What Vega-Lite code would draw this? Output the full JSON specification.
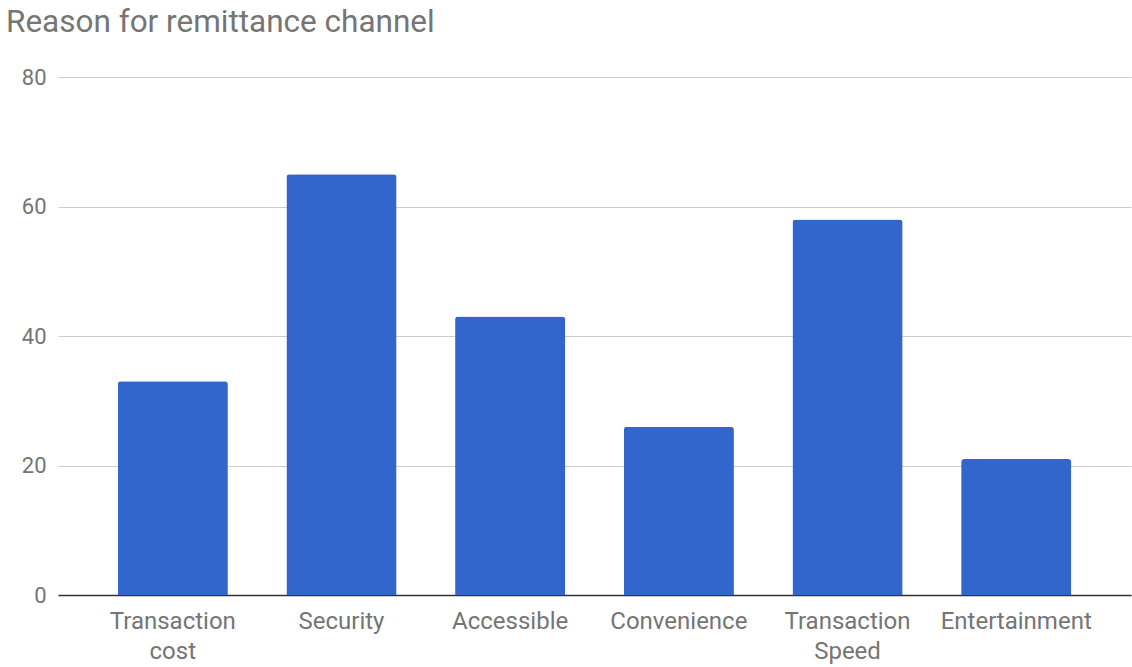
{
  "$schema": "https://vega.github.io/schema/vega-lite/v6.json",
  "width": 1073,
  "height": 518,
  "autosize": {"type": "none"},
  "padding": {"left": 58, "top": 77, "right": 1, "bottom": 72},
  "background": "white",
  "title": {
    "text": "Reason for remittance channel",
    "anchor": "start",
    "frame": "group",
    "font": "Roboto",
    "fontSize": 31.5,
    "fontWeight": "normal",
    "color": "#757575",
    "baseline": "alphabetic",
    "dx": -52,
    "offset": 3
  },
  "data": {
    "values": [
      {"reason": "Transaction cost", "value": 33},
      {"reason": "Security", "value": 65},
      {"reason": "Accessible", "value": 43},
      {"reason": "Convenience", "value": 26},
      {"reason": "Transaction Speed", "value": 58},
      {"reason": "Entertainment", "value": 21}
    ]
  },
  "mark": {"type": "bar", "color": "#3366cc", "cornerRadiusTopLeft": 3, "cornerRadiusTopRight": 3},
  "encoding": {
    "x": {
      "field": "reason",
      "type": "nominal",
      "sort": null,
      "scale": {"paddingInner": 0.347, "paddingOuter": 0.354},
      "axis": {
        "title": null,
        "labelAngle": 0,
        "labelFont": "Roboto",
        "labelFontSize": 24,
        "labelColor": "#757575",
        "labelPadding": 14,
        "labelLineHeight": 30,
        "labelExpr": "datum.label == 'Transaction cost' ? ['Transaction', 'cost'] : datum.label == 'Transaction Speed' ? ['Transaction', 'Speed'] : datum.label",
        "ticks": false,
        "domainColor": "#333333",
        "domainWidth": 1.5,
        "grid": false
      }
    },
    "y": {
      "field": "value",
      "type": "quantitative",
      "scale": {"domain": [0, 80], "nice": false},
      "axis": {
        "title": null,
        "values": [0, 20, 40, 60, 80],
        "labelFont": "Roboto",
        "labelFontSize": 22,
        "labelColor": "#757575",
        "labelPadding": 12,
        "ticks": false,
        "domain": false,
        "gridColor": "#cccccc",
        "gridWidth": 1
      }
    }
  },
  "config": {"view": {"stroke": null}}
}
